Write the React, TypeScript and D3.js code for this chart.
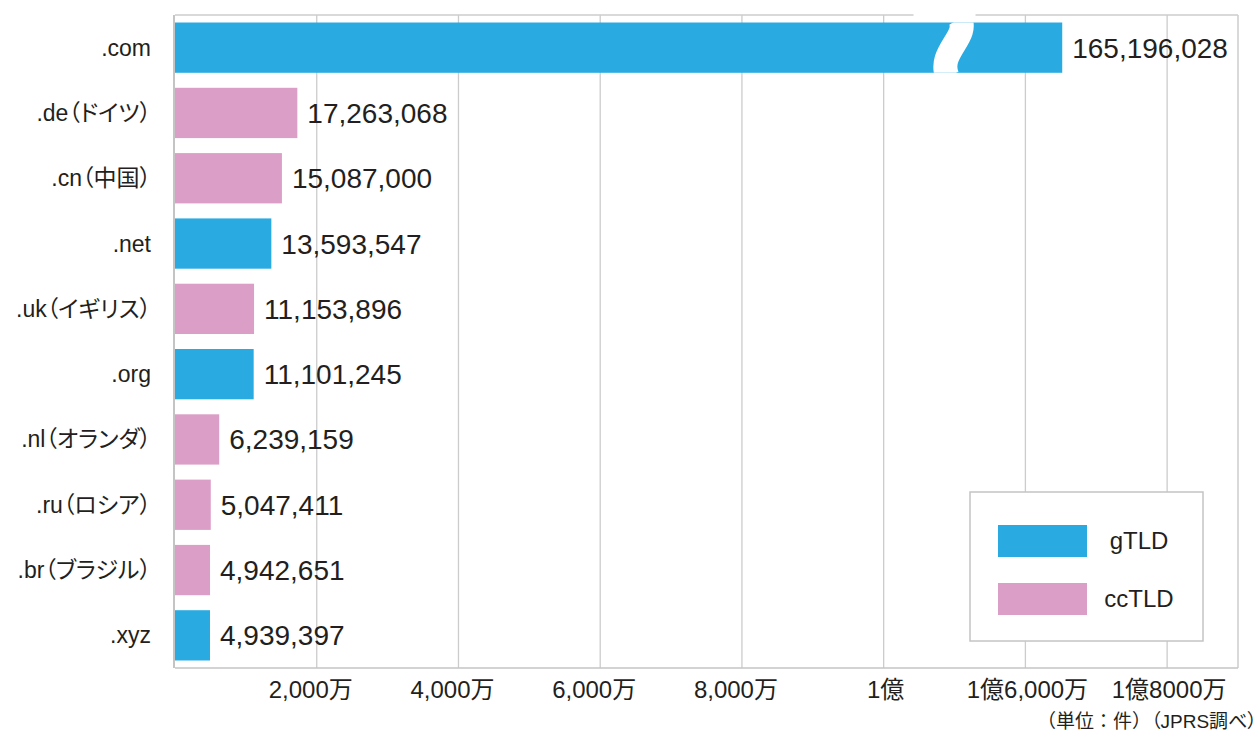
import { useMemo } from 'react';
import * as d3 from 'd3';

const categories = [
  '.com',
  '.de（ドイツ）',
  '.cn（中国）',
  '.net',
  '.uk（イギリス）',
  '.org',
  '.nl（オランダ）',
  '.ru（ロシア）',
  '.br（ブラジル）',
  '.xyz',
];
const values = [
  165196028, 17263068, 15087000, 13593547, 11153896, 11101245, 6239159, 5047411,
  4942651, 4939397,
];
const types = ['gTLD', 'ccTLD', 'ccTLD', 'gTLD', 'ccTLD', 'gTLD', 'ccTLD', 'ccTLD', 'ccTLD', 'gTLD'];
const legendItems = ['gTLD', 'ccTLD'];
const tickValues = [2e7, 4e7, 6e7, 8e7, 1e8, 1.6e8, 1.8e8];
const tickLabels = ['2,000万', '4,000万', '6,000万', '8,000万', '1億', '1億6,000万', '1億8000万'];
// hidden part of the broken axis
const breakFrom = 1e8;
const breakTo = 1.6e8;

const colors: Record<string, string> = { gTLD: '#29ABE2', ccTLD: '#DB9EC7' };
const textColor = '#231F20';
const gridColor = '#CCCCCC';
const font = '"Liberation Sans", Arial, "Noto Sans CJK JP", sans-serif';

export default function App() {
  const width = 1259;
  const height = 733;
  const margin = { top: 15, right: 21, bottom: 65, left: 175 };
  const innerW = width - margin.left - margin.right;

  const x = useMemo(() => {
    const step = innerW / (1.9e8 - (breakTo - breakFrom) + 2e7);
    // polylinear scale: 0..1億 linear, 1億..1億6000万 squeezed into one grid step
    return d3
      .scaleLinear()
      .domain([0, breakFrom, breakTo, 1.9e8])
      .range([
        margin.left,
        margin.left + step * breakFrom,
        margin.left + step * (breakFrom + 2e7),
        margin.left + innerW,
      ]);
  }, [innerW]);

  const y = d3
    .scaleBand()
    .domain(categories)
    .range([margin.top, height - margin.bottom])
    .paddingInner(0.23)
    .paddingOuter(0.115);

  const top = margin.top;
  const bottom = height - margin.bottom;
  const right = width - margin.right;
  const breakX = x((breakFrom + breakTo) / 2);
  const bw = y.bandwidth();
  const comY = y(categories[0])!;

  return (
    <svg
      width={width}
      height={height}
      style={{ position: 'absolute', left: 0, top: 0, display: 'block', background: '#fff' }}
      fontFamily={font}
    >
      <defs>
        <clipPath id="comClip">
          <rect x={x(0)} y={comY} width={x(values[0]) - x(0)} height={bw} />
        </clipPath>
      </defs>

      {/* grid */}
      {tickValues.map((t) => (
        <line key={t} x1={x(t)} x2={x(t)} y1={top} y2={bottom} stroke={gridColor} strokeWidth={1.3} />
      ))}
      <line x1={margin.left} x2={right} y1={top} y2={top} stroke={gridColor} strokeWidth={1.5} />
      <line x1={right} x2={right} y1={top} y2={bottom} stroke={gridColor} strokeWidth={1.5} />

      {/* bars */}
      {categories.map((c, i) => (
        <rect
          key={c}
          x={x(0)}
          y={y(c)!}
          width={x(values[i]) - x(0)}
          height={bw}
          fill={colors[types[i]]}
        />
      ))}

      {/* break mark on .com */}
      <rect x={breakX - 41} y={top - 3} width={62} height={6} fill="#fff" />
      <path
        clipPath="url(#comClip)"
        d={`M ${breakX + 5} ${comY - 4} C ${breakX + 16} ${comY + 14}, ${breakX - 18} ${comY + 30}, ${
          breakX - 7
        } ${comY + bw + 4}`}
        fill="none"
        stroke="#fff"
        strokeWidth={24}
      />

      {/* axes lines */}
      <line x1={margin.left} x2={right} y1={bottom} y2={bottom} stroke="#C4C4C4" strokeWidth={1.6} />
      <line x1={margin.left - 1} x2={margin.left - 1} y1={top} y2={bottom} stroke="#C4C4C4" strokeWidth={2} />

      {/* value labels */}
      {categories.map((c, i) => (
        <text
          key={c}
          x={x(values[i]) + 10}
          y={y(c)! + bw / 2 + 10}
          fontSize={28}
          fill={textColor}
        >
          {d3.format(',')(values[i])}
        </text>
      ))}

      {/* category labels */}
      {categories.map((c) => (
        <text
          key={c}
          x={151}
          y={y(c)! + bw / 2 + 8}
          fontSize={23}
          textAnchor="end"
          fill={textColor}
          style={{ fontFeatureSettings: '"palt"' }}
        >
          {c}
        </text>
      ))}

      {/* x tick labels */}
      {tickValues.map((t, i) => (
        <text
          key={t}
          x={x(t) + (t < 1e8 ? -6 : 2)}
          y={698}
          fontSize={24}
          textAnchor="middle"
          fill={textColor}
          style={{ fontFeatureSettings: '"palt"' }}
        >
          {tickLabels[i]}
        </text>
      ))}

      {/* legend */}
      <rect x={970} y={492} width={233} height={149} fill="#fff" stroke="#C4C4C4" strokeWidth={1.5} />
      {legendItems.map((k, i) => (
        <g key={k}>
          <rect x={998} y={525 + i * 58} width={89} height={32} fill={colors[k]} />
          <text x={1139} y={549 + i * 58} fontSize={24} textAnchor="middle" fill={textColor}>
            {k}
          </text>
        </g>
      ))}

      {/* source note */}
      <text x={1257} y={728} fontSize={19} textAnchor="end" fill={textColor}>
        <tspan>（単位：件）</tspan>
        <tspan style={{ fontFeatureSettings: '"palt"' }}>（JPRS調べ）</tspan>
      </text>
    </svg>
  );
}
